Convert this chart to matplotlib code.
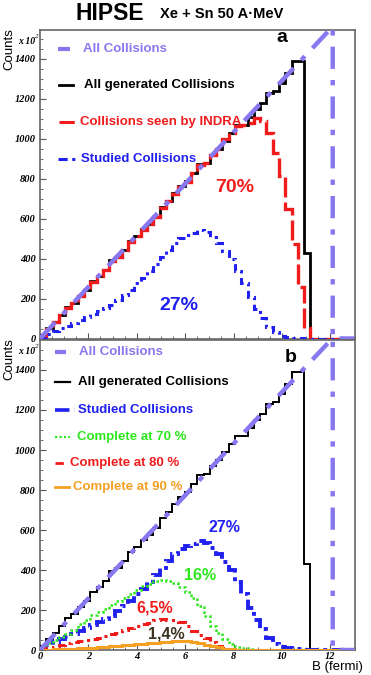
import numpy as np
import matplotlib
matplotlib.use("Agg")
import matplotlib.pyplot as plt
from matplotlib.lines import Line2D

# ---------------- data ----------------
bin_width = 0.26
n_bins = 50
edges = np.arange(n_bins + 1) * bin_width  # 0 .. 13 fm

all_generated = [20, 55, 85, 120, 160, 180, 215, 245, 290, 315, 345, 395, 410, 445, 490,
                 515, 550, 575, 610, 660, 690, 730, 765, 790, 830, 875, 880, 920, 950, 990,
                 1030, 1070, 1070, 1110, 1150, 1180, 1230, 1240, 1280, 1330, 1390, 1390, 430]
seen_by_indra = [15, 50, 85, 120, 155, 180, 215, 245, 285, 315, 345, 390, 410, 445, 485,
                 515, 545, 575, 610, 655, 690, 725, 760, 785, 830, 870, 880, 920, 950, 1000,
                 1030, 1065, 1070, 1080, 1105, 1090, 1030, 930, 815, 650, 475, 260, 55]
studied = [5, 25, 40, 55, 65, 80, 95, 110, 125, 140, 155, 170, 195, 220, 245, 280, 305, 340,
           375, 410, 445, 480, 505, 520, 530, 545, 535, 510, 480, 440, 400, 340, 280, 210,
           150, 105, 60, 32, 15, 8, 5, 3, 0]
complete70 = [15, 35, 50, 65, 80, 100, 130, 150, 175, 190, 205, 225, 245, 260, 280, 300, 320,
              330, 345, 350, 345, 335, 315, 290, 260, 220, 170, 120, 85, 55, 30, 15, 8, 4, 2, 1]
complete80 = [5, 10, 17, 25, 33, 38, 45, 50, 57, 62, 70, 78, 85, 98, 110, 118, 128, 135, 148,
              153, 152, 150, 140, 118, 95, 75, 58, 42, 22, 10, 5, 2]
complete90 = [1, 2, 3, 4, 5, 7, 8, 10, 12, 14, 17, 19, 21, 24, 27, 29, 31, 33, 35, 38, 41, 44,
              46, 43, 38, 33, 27, 20, 13, 7, 3, 1]

# geometric "All Collisions" distribution: linear from 0 up to b_max
all_b = [0.0, 12.1]
all_counts = [0.0, 1560.0]
x_max = 13.0

x_ticks = [0, 2, 4, 6, 8, 10, 12]
y_ticks = [0, 200, 400, 600, 800, 1000, 1200, 1400]


def pad(v):
    return np.array(list(v) + [0] * (n_bins - len(v)), dtype=float)


# ---------------- style ----------------
LAV = '#8878f0'
RED = '#f01c1c'
BLUE = '#2020f0'
GREEN = '#2ee81e'
ORANGE = '#f5a023'
SANS = 'Liberation Sans'
SERIF = 'Liberation Serif'

W, H = 371, 675
fig = plt.figure(figsize=(W / 100, H / 100), dpi=100)


def fx(x):
    return x / W


def fy(y):
    return 1 - y / H


def make_axes(top, bottom, show_xlabels):
    ax = fig.add_axes([fx(40), fy(bottom), fx(354.5) - fx(40), fy(top) - fy(bottom)])
    ax.set_xlim(0, x_max)
    ax.set_ylim(0, 1550 * (bottom - top) / 310)
    ax.set_xticks(x_ticks)
    ax.set_xticks(np.arange(0, 13.01, 0.5), minor=True)
    ax.set_yticks(y_ticks)
    ax.set_yticks(np.arange(0, 1501, 50), minor=True)
    ax.tick_params(which='both', direction='in', top=False, right=False, color='#555555')
    ax.tick_params(which='major', length=4.0, width=0.8)
    ax.tick_params(which='minor', length=2.0, width=0.6)
    for lab in ax.get_yticklabels():
        lab.set_fontfamily(SERIF)
        lab.set_fontstyle('italic')
        lab.set_fontweight('bold')
        lab.set_fontsize(7.5)
    ax.tick_params(axis='y', pad=3)
    if show_xlabels:
        for lab in ax.get_xticklabels():
            lab.set_fontfamily(SERIF)
            lab.set_fontstyle('italic')
            lab.set_fontweight('bold')
            lab.set_fontsize(7.5)
        ax.tick_params(axis='x', pad=1.5)
    else:
        ax.set_xticklabels([])
    for s in ax.spines.values():
        s.set_color('#666666')
        s.set_linewidth(1.2)
    return ax


def draw_all(ax):
    ax.plot([all_b[0], all_b[1], all_b[1], x_max],
            [all_counts[0], all_counts[1], 0, 0], color=LAV, lw=3.2,
            dashes=(5, 2.5, 1.2, 2.5), clip_on=True, zorder=5)


def legend_item(x0, x1, y, text, color, tx, ls_kw, size=9.5):
    fig.add_artist(Line2D([fx(x0), fx(x1)], [fy(y), fy(y)], color=color,
                          transform=fig.transFigure, **ls_kw))
    fig.text(fx(tx), fy(y), text, color=color, fontsize=size, fontweight='bold',
             family=SANS, va='center', ha='left')


# ---------------- panel a ----------------
ax_a = make_axes(30, 338.5, False)
ax_a.stairs(pad(all_generated), edges, color='black', lw=2.0, zorder=3)
ax_a.stairs(pad(seen_by_indra), edges, color=RED, lw=2.4, linestyle=(0, (6, 1.5)), zorder=4)
ax_a.stairs(pad(studied), edges, color=BLUE, lw=2.2, linestyle=(0, (2.5, 1.5, 1, 1.5)), zorder=4)
draw_all(ax_a)

legend_item(58, 70, 49, 'All Collisions', LAV, 83, dict(lw=3, dashes=(3, 2)))
legend_item(59, 73, 85, 'All generated Collisions', 'black', 84, dict(lw=2))
legend_item(59, 75, 122, 'Collisions seen by INDRA', RED, 80, dict(lw=2.2, dashes=(5, 1.5, 2, 1.5)))
legend_item(58, 78, 159, 'Studied Collisions', BLUE, 81, dict(lw=2.2, dashes=(3, 1.5, 1, 1.5, 1, 1.5)))

fig.text(fx(282), fy(38), 'a', fontsize=14, fontweight='bold', family=SANS, ha='center', va='center')
fig.text(fx(235), fy(188), '70%', color=RED, fontsize=14, fontweight='bold', family=SANS, ha='center', va='center')
fig.text(fx(179), fy(305), '27%', color=BLUE, fontsize=14, fontweight='bold', family=SANS, ha='center', va='center')

# ---------------- panel b ----------------
ax_b = make_axes(340, 650, True)
ax_b.stairs(pad(all_generated), edges, color='black', lw=1.4, zorder=3)
ax_b.stairs(pad(studied), edges, color=BLUE, lw=2.8, linestyle=(0, (3.5, 1.2, 1, 1.2)), zorder=4)
ax_b.stairs(pad(complete70), edges, color=GREEN, lw=1.8, linestyle=(0, (1, 1)), zorder=4)
ax_b.stairs(pad(complete80), edges, color=RED, lw=2.2, linestyle=(0, (3, 1.5, 1, 1.5)), zorder=4)
ax_b.stairs(pad(complete90), edges, color=ORANGE, lw=2.2, zorder=4)
draw_all(ax_b)

legend_item(55, 66, 352, 'All Collisions', LAV, 79, dict(lw=3, dashes=(3, 2)))
legend_item(55, 70, 382, 'All generated Collisions', 'black', 78, dict(lw=1.6))
legend_item(55, 75, 410, 'Studied Collisions', BLUE, 78, dict(lw=2.6, dashes=(4, 1.5, 1, 1.5)))
legend_item(55, 70, 437, 'Complete at 70 %', GREEN, 77, dict(lw=1.6, dashes=(1, 1)), size=9.5)
legend_item(55, 66, 463, 'Complete at 80 %', RED, 70, dict(lw=2, dashes=(3, 1.5, 1, 1.5)), size=9.5)
legend_item(55, 69, 487, 'Complete at 90 %', ORANGE, 73, dict(lw=2), size=9.5)

fig.text(fx(291), fy(357), 'b', fontsize=14, fontweight='bold', family=SANS, ha='center', va='center')
fig.text(fx(224), fy(528), '27%', color=BLUE, fontsize=11.5, fontweight='bold', family=SANS, ha='center', va='center')
fig.text(fx(200), fy(576), '16%', color=GREEN, fontsize=11.5, fontweight='bold', family=SANS, ha='center', va='center')
fig.text(fx(155), fy(608), '6,5%', color=RED, fontsize=11.5, fontweight='bold', family=SANS, ha='center', va='center')
fig.text(fx(166), fy(634), '1,4%', color='#3d3522', fontsize=11.5, fontweight='bold', family=SANS, ha='center', va='center')

# ---------------- titles / axis labels ----------------
fig.text(fx(110), fy(14), 'HIPSE', fontsize=16.5, fontweight='bold', family=SANS, ha='center', va='center')
fig.text(fx(222), fy(14), 'Xe + Sn 50 A\u00b7MeV', fontsize=10.5, fontweight='bold', family=SANS, ha='center', va='center')

for top in (28, 338):
    fig.text(fx(9.5), fy(top), 'Counts', rotation=90, fontsize=9.5, family=SANS, ha='center', va='top')
    fig.text(fx(18), fy(top + 14), 'x 10', fontsize=7, family=SERIF, style='italic', fontweight='bold',
             ha='left', va='center')
    fig.text(fx(35), fy(top + 8), '2', fontsize=5, family=SERIF, style='italic', ha='left', va='center')

fig.text(fx(363), fy(667), 'B (fermi)', fontsize=9.5, family=SANS, ha='right', va='center')

fig.savefig('out.png', dpi=100)
